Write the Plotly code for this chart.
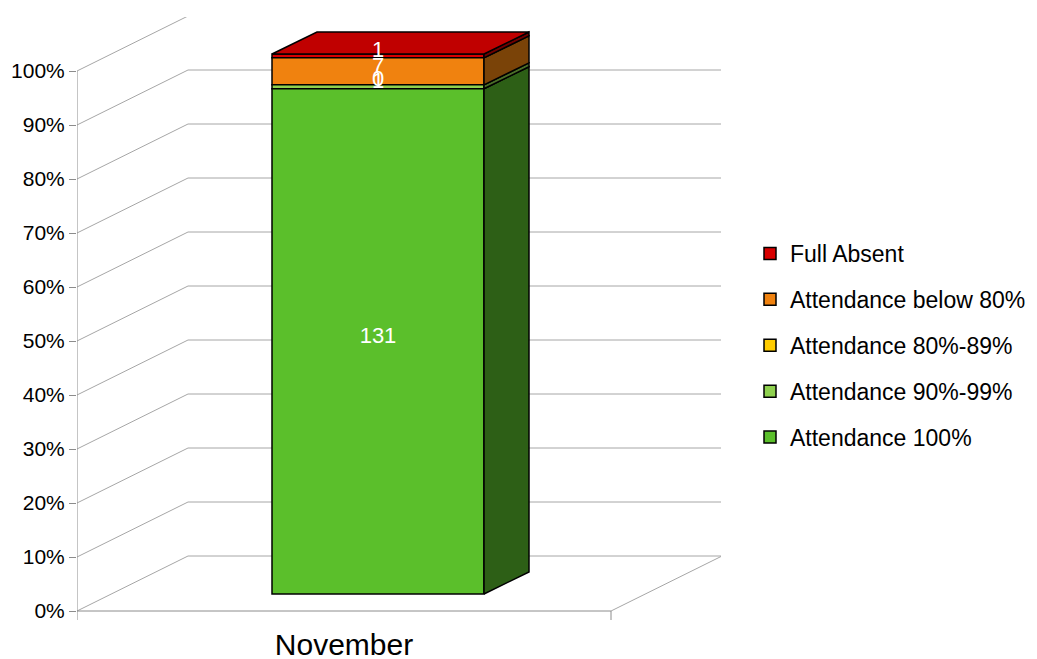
import plotly.graph_objects as go

# ---------------- data ----------------
categories = ["November"]
series_names = ["Attendance 100%", "Attendance 90%-99%", "Attendance 80%-89%",
                "Attendance below 80%", "Full Absent"]
series_values = [131, 1, 0, 7, 1]          # counts for November
y_tick_values = [0, 10, 20, 30, 40, 50, 60, 70, 80, 90, 100]
y_tick_labels = [f"{v}%" for v in y_tick_values]

front_colors = ["#5bbf2b", "#8fd14f", "#ffcc00", "#f0820f", "#d80000"]
side_colors = ["#2d5f16", "#4a6e28", "#806600", "#7a4308", "#700000"]
top_color = "#c00000"

# ---------------- geometry (axis units: x = px, y = percent) ----------------
PAGE = 8  # browser body margin
PX_PER_PCT = 5.4
WALL_DX = 111
WALL_DY = 55 / PX_PER_PCT
SLOT = 534
BAR_W = 212
BAR_OFF_X = 34
BAR_OFF_Y = 17 / PX_PER_PCT
BAR_DX = 45
BAR_DY = 22 / PX_PER_PCT
Y_MIN = -9 / PX_PER_PCT
Y_MAX = (611 - 17) / PX_PER_PCT
X_MAX = 644
LABEL_LIFT = 0.8

total = sum(series_values)
pcts = [v / total * 100 for v in series_values]
bases = []
acc = 0
for p in pcts:
    bases.append(acc)
    acc += p

cat_center = SLOT / 2
bar_cx = cat_center + BAR_OFF_X
xl = bar_cx - BAR_W / 2
xr = bar_cx + BAR_W / 2

fig = go.Figure()

# front faces (stacked bars) - added top-down so legend lists Full Absent first
for i in reversed(range(len(series_names))):
    name = series_names[i]
    fig.add_trace(go.Bar(
        x=[bar_cx], y=[pcts[i]], base=[bases[i] + BAR_OFF_Y], width=[BAR_W],
        name=name, legendgroup=name,
        marker=dict(color=front_colors[i], line=dict(color="black", width=1.5)),
        hoverinfo="skip",
    ))

# right side faces
for i, name in enumerate(series_names):
    if pcts[i] <= 0:
        continue
    b = bases[i] + BAR_OFF_Y
    t = b + pcts[i]
    fig.add_trace(go.Scatter(
        x=[xr, xr + BAR_DX, xr + BAR_DX, xr, xr],
        y=[b, b + BAR_DY, t + BAR_DY, t, b],
        mode="lines", fill="toself", fillcolor=side_colors[i],
        line=dict(color="black", width=1.5), showlegend=False, hoverinfo="skip",
    ))

# top face
top = bases[-1] + pcts[-1] + BAR_OFF_Y
fig.add_trace(go.Scatter(
    x=[xl, xr, xr + BAR_DX, xl + BAR_DX, xl],
    y=[top, top, top + BAR_DY, top + BAR_DY, top],
    mode="lines", fill="toself", fillcolor=top_color,
    line=dict(color="black", width=1.5), showlegend=False, hoverinfo="skip",
))

# data labels
fig.add_trace(go.Scatter(
    x=[bar_cx] * len(series_values),
    y=[bases[i] + pcts[i] / 2 + BAR_OFF_Y + LABEL_LIFT for i in range(len(series_values))],
    text=[str(v) for v in series_values],
    mode="text", textfont=dict(color="white", size=22, family="Liberation Sans"),
    showlegend=False, hoverinfo="skip",
))

# 3D walls / gridlines
grid_col = "#a6a6a6"
shapes = []
for v in y_tick_values:
    shapes.append(dict(type="line", x0=0, y0=v, x1=WALL_DX, y1=v + WALL_DY,
                       line=dict(color=grid_col, width=1), layer="below"))
    shapes.append(dict(type="line", x0=WALL_DX, y0=v + WALL_DY, x1=X_MAX, y1=v + WALL_DY,
                       line=dict(color=grid_col, width=1), layer="below"))
# floor
shapes.append(dict(type="line", x0=0, y0=0, x1=SLOT, y1=0,
                   line=dict(color="#8c8c8c", width=1), layer="below"))
shapes.append(dict(type="line", x0=SLOT, y0=0, x1=SLOT + WALL_DX, y1=WALL_DY,
                   line=dict(color=grid_col, width=1), layer="below"))
# front axis line and category ticks
shapes.append(dict(type="line", x0=0, y0=Y_MIN, x1=0, y1=100,
                   line=dict(color="#8c8c8c", width=1), layer="below"))
shapes.append(dict(type="line", x0=SLOT, y0=Y_MIN, x1=SLOT, y1=0,
                   line=dict(color="#8c8c8c", width=1), layer="below"))

fig.update_layout(
    width=1037, height=659,
    margin=dict(l=77 - PAGE, r=1037 - 721 + PAGE, t=17 - PAGE, b=659 - 620 + PAGE,
                autoexpand=False),
    paper_bgcolor="white", plot_bgcolor="white",
    barmode="overlay",
    shapes=shapes,
    font=dict(family="Liberation Sans", color="black"),
    xaxis=dict(range=[0, X_MAX], showgrid=False, zeroline=False, showline=False,
               automargin=False,
               tickvals=[cat_center], ticktext=categories, ticks="",
               ticklabelstandoff=4,
               tickfont=dict(size=30, color="black")),
    yaxis=dict(range=[Y_MIN, Y_MAX], showgrid=False, zeroline=False, showline=False,
               automargin=False,
               tickvals=y_tick_values, ticktext=y_tick_labels,
               ticks="outside", ticklen=7, tickcolor="#8c8c8c",
               tickfont=dict(size=21, color="black")),
    legend=dict(xref="container", yref="container", x=742 / 1037, y=1 - 224 / 659,
                xanchor="left", yanchor="top", traceorder="grouped",
                tracegroupgap=13, font=dict(size=23, color="black"),
                bgcolor="rgba(0,0,0,0)"),
    showlegend=True,
)

fig.write_html("out.html")
